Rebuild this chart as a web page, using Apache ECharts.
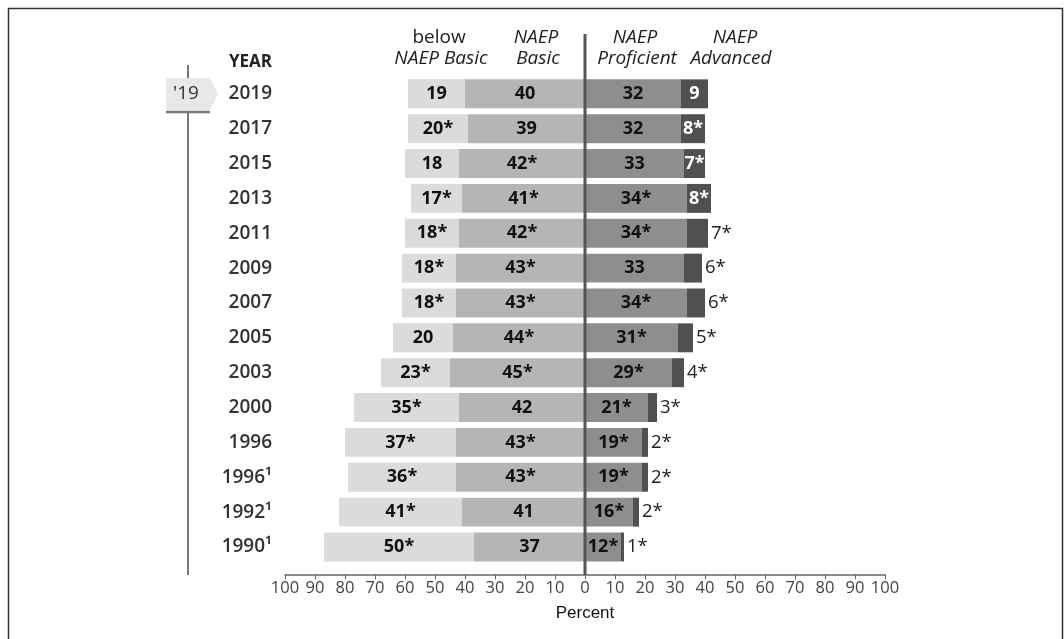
<!DOCTYPE html>
<html>
<head>
<meta charset="utf-8">
<script src="https://cdn.jsdelivr.net/npm/echarts@6/dist/echarts.min.js"></script>
<style>
html,body{margin:0;padding:0;background:#fff;}
#c{width:1064px;height:639px;}
</style>
</head>
<body>
<div id="c"></div>
<script>
const years = ['2019','2017','2015','2013','2011','2009','2007','2005','2003','2000','1996','1996\u00B9','1992\u00B9','1990\u00B9'];
const belowBasic = [19,20,18,17,18,18,18,20,23,35,37,36,41,50];
const basic = [40,39,42,41,42,43,43,44,45,42,43,43,41,37];
const proficient = [32,32,33,34,34,33,34,31,29,21,19,19,16,12];
const advanced = [9,8,7,8,7,6,6,5,4,3,2,2,2,1];
const belowSig = [0,1,0,1,1,1,1,0,1,1,1,1,1,1];
const basicSig = [0,0,1,1,1,1,1,1,1,0,1,1,0,0];
const profSig = [0,0,0,1,1,0,1,1,1,1,1,1,1,1];
const advSig = [0,1,1,1,1,1,1,1,1,1,1,1,1,1];
const advInside = [1,1,1,1,0,0,0,0,0,0,0,0,0,0];

const FONT = '"Open Sans", "Noto Sans", sans-serif';
const chart = echarts.init(document.getElementById('c'), null, {renderer:'canvas'});

function lbl(vals, sig){ return vals.map((v,i)=> v + (sig[i] ? '*' : '')); }
const belowLbl = lbl(belowBasic, belowSig);
const basicLbl = lbl(basic, basicSig);
const profLbl = lbl(proficient, profSig);
const advLbl = lbl(advanced, advSig);

const inLabel = {show:true, position:'inside', fontFamily:FONT, fontSize:18, fontWeight:'bold', color:'#111'};

const option = {
  animation:false,
  backgroundColor:'#fff',
  grid:{left:285, right:179, top:76.4, bottom:74.6, containLabel:false},
  xAxis:{
    type:'value', min:-100, max:100, interval:10, offset:10,
    axisLine:{show:true, lineStyle:{color:'#666', width:1.5}},
    axisTick:{show:true, length:5, lineStyle:{color:'#666'}},
    splitLine:{show:false},
    axisLabel:{formatter:v=>String(Math.abs(v)), fontFamily:FONT, fontSize:16.5, color:'#444', margin:5}
  },
  yAxis:{
    type:'category', data:years, inverse:true,
    axisLine:{show:false}, axisTick:{show:false}, splitLine:{show:false},
    axisLabel:{fontFamily:FONT, fontSize:19, fontWeight:600, color:'#333', margin:13}
  },
  series:[
    {name:'NAEP Basic', type:'bar', stack:'a', barCategoryGap:'17%',
     data:basic.map(v=>-v), itemStyle:{color:'#b5b5b5'},
     label:Object.assign({}, inLabel, {formatter:p=>basicLbl[p.dataIndex]})},
    {name:'below NAEP Basic', type:'bar', stack:'a', barCategoryGap:'17%',
     data:belowBasic.map(v=>-v), itemStyle:{color:'#dbdbdb'},
     label:Object.assign({}, inLabel, {formatter:p=>belowLbl[p.dataIndex]})},
    {name:'NAEP Proficient', type:'bar', stack:'a', barCategoryGap:'17%',
     data:proficient.slice(), itemStyle:{color:'#8e8e8e'},
     label:Object.assign({}, inLabel, {formatter:p=>profLbl[p.dataIndex]})},
    {name:'NAEP Advanced', type:'bar', stack:'a', barCategoryGap:'17%',
     itemStyle:{color:'#505050'},
     data:advanced.map((v,i)=>({
       value:v,
       label: advInside[i]
         ? {show:true, position:'inside', fontFamily:FONT, fontSize:18, fontWeight:'bold', color:'#fff', formatter:advLbl[i]}
         : {show:true, position:'right', distance:3, fontFamily:FONT, fontSize:18.5, fontWeight:'normal', color:'#222', formatter:advLbl[i]}
     }))}
  ]
};
chart.setOption(option);

const x0 = chart.convertToPixel({xAxisIndex:0}, 0);
const hdr = {fontFamily:FONT, fontSize:19, fill:'#222', align:'center', verticalAlign:'middle'};
chart.setOption({
  graphic:[
    {type:'rect', shape:{x:8.5, y:8.5, width:1054, height:700}, style:{fill:null, stroke:'#333', lineWidth:1.5}, silent:true},
    {type:'line', shape:{x1:x0, y1:34, x2:x0, y2:575}, style:{stroke:'#555', lineWidth:3}, z:100},
    {type:'line', shape:{x1:188, y1:65, x2:188, y2:78}, style:{stroke:'#777', lineWidth:2}},
    {type:'line', shape:{x1:188, y1:112, x2:188, y2:575}, style:{stroke:'#777', lineWidth:2}},
    {type:'polygon', shape:{points:[[166,78],[210,78],[218,94],[210,110],[166,110]]}, style:{fill:'#e8e8e8'}},
    {type:'line', shape:{x1:166, y1:112, x2:210, y2:112}, style:{stroke:'#777', lineWidth:2.5}},
    {type:'text', x:186, y:94, style:{text:"'19", fontFamily:FONT, fontSize:19, fill:'#333', align:'center', verticalAlign:'middle'}},
    {type:'text', x:272, y:62, style:{text:'YEAR', fontFamily:FONT, fontSize:17, fontWeight:'bold', fill:'#222', align:'right', verticalAlign:'middle'}},
    {type:'text', x:439, y:38, style:Object.assign({}, hdr, {text:'below'})},
    {type:'text', x:441, y:59, style:Object.assign({}, hdr, {text:'NAEP Basic', fontStyle:'italic'})},
    {type:'text', x:536, y:38, style:Object.assign({}, hdr, {text:'NAEP', fontStyle:'italic'})},
    {type:'text', x:538, y:59, style:Object.assign({}, hdr, {text:'Basic', fontStyle:'italic'})},
    {type:'text', x:635, y:38, style:Object.assign({}, hdr, {text:'NAEP', fontStyle:'italic'})},
    {type:'text', x:637, y:59, style:Object.assign({}, hdr, {text:'Proficient', fontStyle:'italic'})},
    {type:'text', x:735, y:38, style:Object.assign({}, hdr, {text:'NAEP', fontStyle:'italic'})},
    {type:'text', x:731, y:59, style:Object.assign({}, hdr, {text:'Advanced', fontStyle:'italic'})},
    {type:'text', x:x0, y:613, style:{text:'Percent', fontFamily:'"Liberation Sans", Arial, sans-serif', fontSize:17, fill:'#111', align:'center', verticalAlign:'middle'}}
  ]
});
</script>
</body>
</html>
